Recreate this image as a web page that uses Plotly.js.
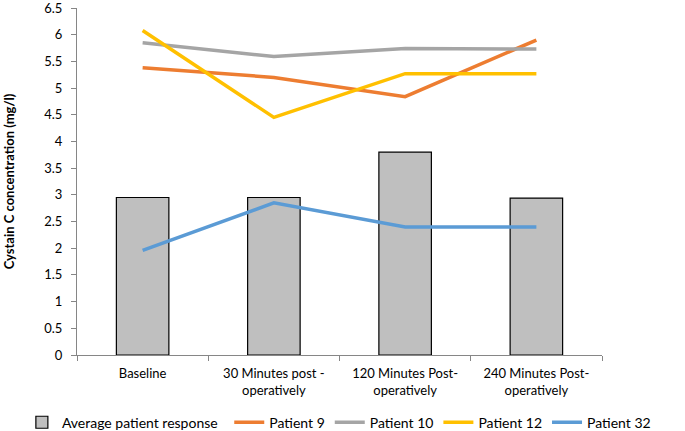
<!DOCTYPE html>
<html>
<head>
<meta charset="utf-8">
<script src="https://cdn.plot.ly/plotly-3.0.1.min.js"></script>
<style>html,body{margin:0;padding:0;background:#fff;}#chart{width:685px;height:431px;}</style>
</head>
<body>
<div id="chart"></div>
<script>
const categories = ["Baseline", "30 Minutes post -<br>operatively", "120 Minutes Post-<br>operatively", "240 Minutes Post-<br>operatively"];
const averageResponse = [2.95, 2.95, 3.80, 2.94];
const patient9 = [5.38, 5.20, 4.84, 5.90];
const patient10 = [5.85, 5.59, 5.74, 5.73];
const patient12 = [6.08, 4.45, 5.27, 5.27];
const patient32 = [1.96, 2.85, 2.40, 2.40];
const yTicks = [0, 0.5, 1, 1.5, 2, 2.5, 3, 3.5, 4, 4.5, 5, 5.5, 6, 6.5];

const font = "Lato, 'Open Sans', sans-serif";
const line = (name, y, color) => ({
  type: "scatter", mode: "lines", name: name, x: categories, y: y,
  line: {color: color, width: 3.5}, legend: "legend2"
});
const data = [
  {type: "bar", name: "Average patient response", x: categories, y: averageResponse,
   marker: {color: "#BFBFBF", line: {color: "#000000", width: 1.2}}, legend: "legend"},
  line("Patient 9", patient9, "#ED7D31"),
  line("Patient 10", patient10, "#A5A5A5"),
  line("Patient 12", patient12, "#FFC000"),
  line("Patient 32", patient32, "#5B9BD5")
];
const legendBase = {orientation: "h", yanchor: "middle", y: -0.195, xanchor: "left",
                    font: {size: 14}, tracegroupgap: 0, bgcolor: "rgba(0,0,0,0)"};
const layout = {
  width: 685, height: 431,
  margin: {l: 77, r: 83, t: 8, b: 76, autoexpand: false},
  paper_bgcolor: "#fff", plot_bgcolor: "#fff",
  font: {family: font, size: 13, color: "#000"},
  bargap: 0.6,
  showlegend: true,
  legend: Object.assign({}, legendBase, {x: -0.105}),
  legend2: Object.assign({}, legendBase, {x: 0.29}),
  xaxis: {showline: true, linecolor: "#868686", linewidth: 1, ticks: "outside",
          tickson: "boundaries", ticklen: 5, tickcolor: "#868686", showgrid: false,
          zeroline: false, tickfont: {size: 13}, automargin: false, ticklabelstandoff: 6},
  yaxis: {range: [0, 6.5], tickvals: yTicks, ticktext: yTicks.map(String),
          showline: true, linecolor: "#868686", linewidth: 1, ticks: "outside",
          ticklen: 5, tickcolor: "#868686", showgrid: false, zeroline: false,
          tickfont: {size: 13}, ticklabelstandoff: 6, automargin: false,
          ticklabeloverflow: "allow",
          title: {text: "Cystain C concentration (mg/l)", font: {size: 13, family: font, weight: "bold"}, standoff: 26}}
};
Plotly.newPlot("chart", data, layout, {displayModeBar: false, staticPlot: true});
</script>
</body>
</html>
